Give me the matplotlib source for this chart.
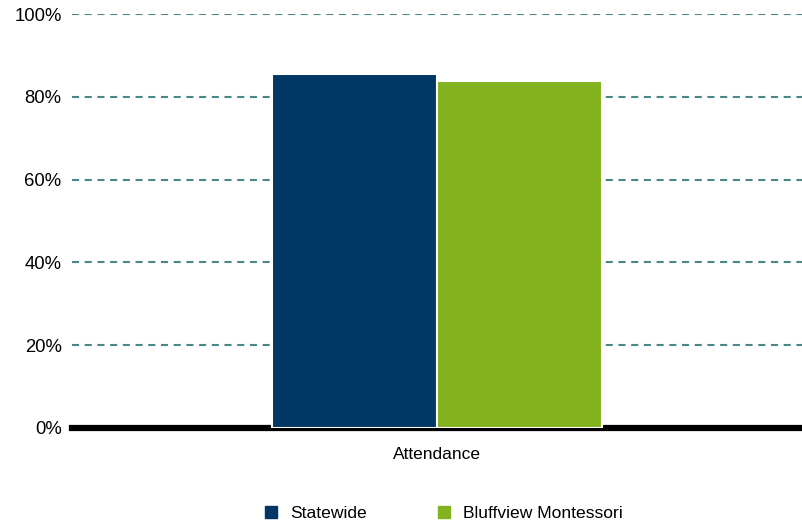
import numpy as np
import matplotlib.pyplot as plt
from matplotlib.lines import Line2D

plt.rcParams['font.family'] = ['Liberation Sans', 'DejaVu Sans']

# 데이터
categories = ['Attendance']
series_names = ['Statewide', 'Bluffview Montessori']
series_values = [85.4, 83.8]
colors = ['#003764', '#82b21e']
y_ticks = [0, 20, 40, 60, 80, 100]
y_tick_labels = ['0%', '20%', '40%', '60%', '80%', '100%']

fig = plt.figure(figsize=(8.02, 5.26), dpi=100)
ax = fig.add_axes([72 / 802, 1 - 428 / 526, 1 - 72 / 802, (428 - 14) / 526])

x = np.arange(len(categories))
width = 0.226
for i, (name, val) in enumerate(zip(series_names, series_values)):
    offset = (i - 0.5) * width
    ax.bar(x + offset, [val], width, color=colors[i], edgecolor='white',
           linewidth=1.5, zorder=3, label=name)

ax.set_xlim(-0.5, 0.5)
ax.set_ylim(0, 100)
ax.set_yticks(y_ticks)
ax.set_yticklabels(y_tick_labels, fontsize=13.3)
ax.set_xticks(x)
ax.set_xticklabels(categories, fontsize=12.5)
ax.tick_params(axis='y', length=0, pad=7.5)
ax.tick_params(axis='x', length=0, pad=14)

# 점선 격자
ax.yaxis.grid(True, linestyle=(0, (3.4, 2.7)), color='#4a8787', linewidth=1.5, zorder=0)
for s in ['top', 'right', 'left']:
    ax.spines[s].set_visible(False)
ax.spines['bottom'].set_linewidth(4.5)
ax.spines['bottom'].set_color('black')
ax.spines['bottom'].set_zorder(2)

handles = [Line2D([0], [0], marker='s', linestyle='', markersize=8,
                  markerfacecolor=c, markeredgecolor=c) for c in colors]
fig.legend(handles, series_names, loc='center', ncol=2, frameon=False,
           fontsize=12.6, bbox_to_anchor=(438 / 802, 1 - 513 / 526),
           columnspacing=3.4, handletextpad=0.1)

fig.savefig('out.png', dpi=100)
